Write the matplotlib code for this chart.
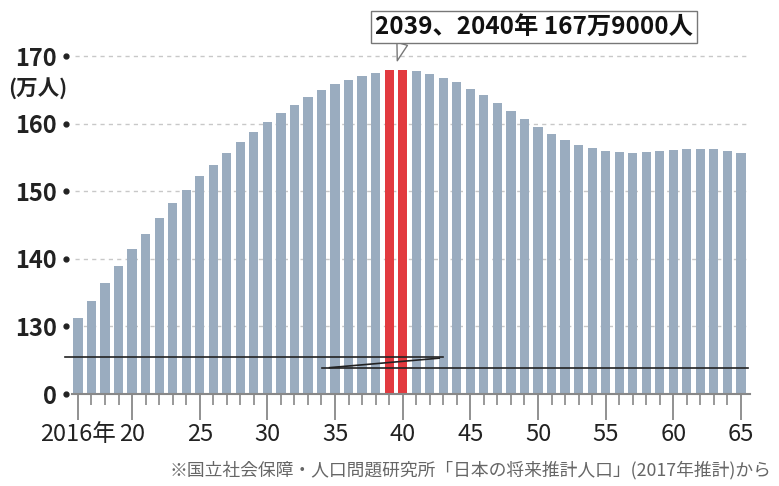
''' Projected population bar chart (2016-2065) '''

import numpy as np
import matplotlib.pyplot as plt

plt.rcParams['font.family'] = ['Noto Sans CJK JP', 'DejaVu Sans']

# data
years = np.arange(2016, 2066)
pop = [131.2, 133.8, 136.4, 138.9, 141.5, 143.7, 146.0, 148.2, 150.2, 152.2,
       153.9, 155.7, 157.3, 158.8, 160.2, 161.5, 162.8, 163.9, 164.9, 165.8,
       166.5, 167.1, 167.5, 167.9, 167.9, 167.8, 167.4, 166.8, 166.1, 165.1,
       164.2, 163.0, 161.8, 160.7, 159.5, 158.5, 157.6, 156.9, 156.4, 156.0,
       155.8, 155.7, 155.8, 156.0, 156.1, 156.2, 156.3, 156.2, 156.0, 155.7]
peak_years = [2039, 2040]
ytick_vals = [120, 130, 140, 150, 160, 170]
ytick_labels = ['0', '130', '140', '150', '160', '170']
xtick_vals = [2016, 2020, 2025, 2030, 2035, 2040, 2045, 2050, 2055, 2060, 2065]
xtick_labels = ['2016年', '20', '25', '30', '35', '40', '45', '50', '55', '60', '65']
peak_text = '2039、2040年 167万9000人'
source = '※国立社会保障・人口問題研究所「日本の将来推計人口」(2017年推計)から'

bar_col = '#9aacbf'
red = '#e23a3f'
base = 120   # axis bottom stands for 0 (broken axis)

fig = plt.figure(figsize=(7.79, 4.86), dpi=100)
ax = fig.add_axes([72/779, 1-394/486, 678/779, (394-42.5)/486])

cols = [red if y in peak_years else bar_col for y in years]
vals = np.array(pop) - base
ax.bar(years, vals, bottom=base, width=0.68, color=cols, zorder=2)

ax.set_xlim(2015.56, 2065.67)
ax.set_ylim(base, 172)

# grid
for v in ytick_vals[1:]:
    ax.axhline(v, color='#c8c8c8', lw=1, ls=(0, (3, 3)), zorder=1, xmin=0.005)

# spines
for s in ['top', 'right', 'left']:
    ax.spines[s].set_visible(False)
ax.spines['bottom'].set_color('#888888')
ax.spines['bottom'].set_linewidth(1.5)

# y ticks
ax.set_yticks(ytick_vals)
ax.set_yticklabels(ytick_labels, fontsize=17, fontweight='bold', color='#222222')
ax.tick_params(axis='y', length=0, pad=11)
ax.plot([-0.009]*len(ytick_vals), ytick_vals, 'o', color='#222222', ms=3.5,
        transform=ax.get_yaxis_transform(), clip_on=False, zorder=5)
ax.text(-0.094, 165.1, '(万人)', transform=ax.get_yaxis_transform(),
        fontsize=15.5, fontweight='bold', color='#222222', ha='left', va='center')

# x ticks
ax.set_xticks(xtick_vals)
ax.set_xticklabels(xtick_labels, fontsize=17, color='#222222')
ax.set_xticks(years, minor=True)
ax.tick_params(axis='x', which='major', length=19, width=1.3, color='#888888', pad=2)
ax.tick_params(axis='x', which='minor', length=8, width=1.2, color='#888888')

# axis break marks
ax.plot([2015.04, 2042.98], [125.4, 125.4], color='#222222', lw=1.2, zorder=4, clip_on=False)
ax.plot([2034.03, 2065.5], [123.8, 123.8], color='#222222', lw=1.2, zorder=4, clip_on=False)
ax.plot([2034.6, 2042.7], [123.9, 125.3], color='#222222', lw=1.2, zorder=4)

# peak callout
ax.annotate(peak_text, xy=(2039.6, 169.3), xytext=(2049.7, 174.3),
            ha='center', va='center', fontsize=17.5, fontweight='bold', color='#111111',
            annotation_clip=False,
            bbox=dict(boxstyle='square,pad=0.18', fc='white', ec='#777777', lw=1),
            arrowprops=dict(arrowstyle='wedge,tail_width=0.45', fc='white', ec='#777777',
                            relpos=(0.09, 0), shrinkA=0, shrinkB=0, lw=1))

fig.text(0.99, 1-470/486, source, ha='right', va='center',
         fontsize=12.8, color='#666666')

plt.savefig('out.png', dpi=100)
